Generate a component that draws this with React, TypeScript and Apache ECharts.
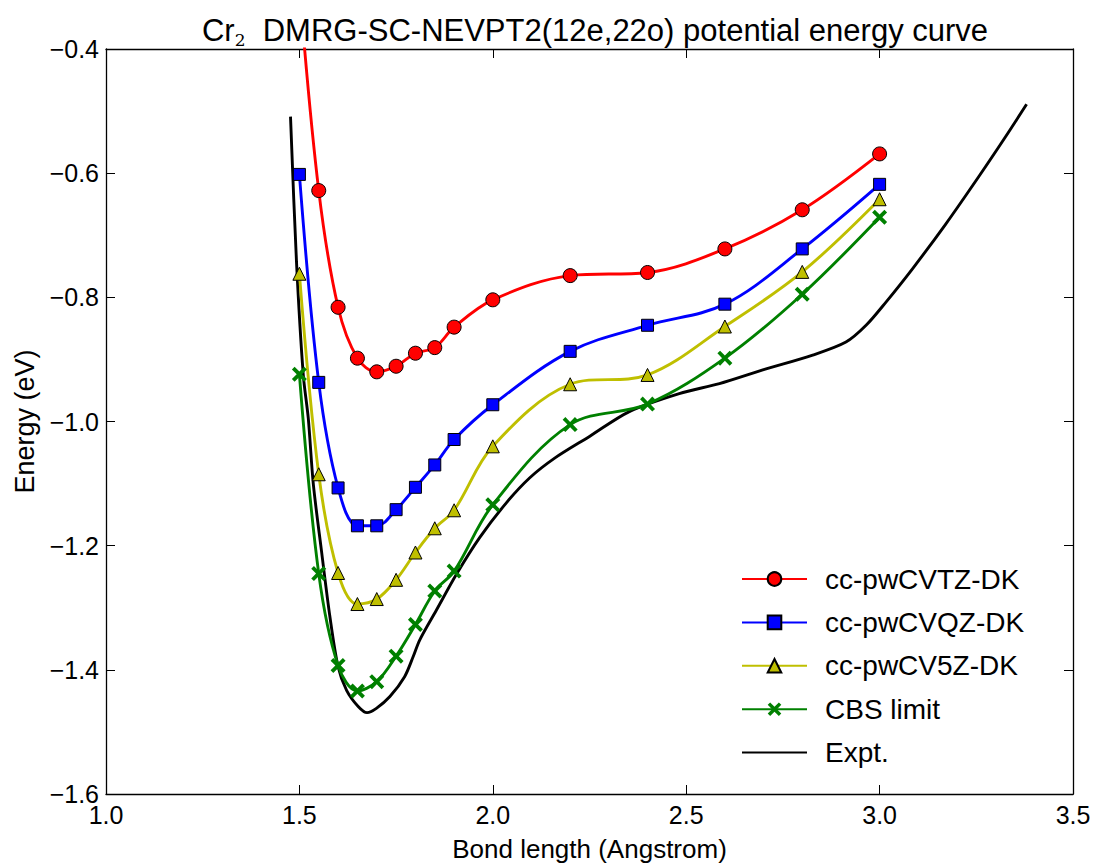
import React, { useEffect, useRef } from "react";
import * as echarts from "echarts";

// Bond lengths (Angstrom) of the computed points
const bondLengths = [1.5, 1.55, 1.6, 1.65, 1.7, 1.75, 1.8, 1.85, 1.9, 2.0, 2.2, 2.4, 2.6, 2.8, 3.0];

// Energies (eV)
const tzEnergy = [-0.30, -0.628, -0.816, -0.898, -0.920, -0.911, -0.890, -0.881, -0.848, -0.804, -0.765, -0.760, -0.722, -0.659, -0.569];
const qzEnergy = [-0.602, -0.937, -1.107, -1.168, -1.168, -1.142, -1.106, -1.070, -1.029, -0.973, -0.887, -0.845, -0.811, -0.722, -0.618];
const v5zEnergy = [-0.762, -1.085, -1.244, -1.294, -1.286, -1.255, -1.211, -1.172, -1.143, -1.040, -0.940, -0.925, -0.847, -0.759, -0.642];
const cbsEnergy = [-0.924, -1.245, -1.393, -1.434, -1.419, -1.378, -1.327, -1.273, -1.241, -1.134, -1.005, -0.972, -0.898, -0.795, -0.671];

// Experimental curve
const exptX = [1.477, 1.4925, 1.51, 1.523, 1.536, 1.557, 1.579, 1.6, 1.622, 1.652, 1.675, 1.699, 1.734, 1.772, 1.794, 1.811, 1.854, 1.906, 1.966, 2.035, 2.095, 2.16, 2.25, 2.353, 2.482, 2.586, 2.698, 2.827, 2.913, 2.965, 3.016, 3.085, 3.171, 3.257, 3.326, 3.38];
const exptY = [-0.509, -0.743, -0.925, -0.995, -1.101, -1.208, -1.315, -1.395, -1.433, -1.459, -1.469, -1.462, -1.443, -1.411, -1.379, -1.352, -1.304, -1.246, -1.187, -1.131, -1.091, -1.059, -1.024, -0.984, -0.955, -0.939, -0.917, -0.893, -0.872, -0.845, -0.808, -0.754, -0.682, -0.605, -0.541, -0.489];

const seriesNames = ["cc-pwCVTZ-DK", "cc-pwCVQZ-DK", "cc-pwCV5Z-DK", "CBS limit", "Expt."];
const xTicks = { min: 1.0, max: 3.5, interval: 0.5 };
const yTicks = { min: -1.6, max: -0.4, interval: 0.2 };

const FONT = "'Liberation Sans', Arial, Helvetica, sans-serif";
const X_MARK = "path://M1.8,0 L5,3.2 L8.2,0 L10,1.8 L6.8,5 L10,8.2 L8.2,10 L5,6.8 L1.8,10 L0,8.2 L3.2,5 L0,1.8 Z";

const pairs = (xs: number[], ys: number[]) => xs.map((x, i) => [x, ys[i]]);
const fmt = (v: number) => v.toFixed(1).replace("-", "\u2212");

export default function App() {
  const ref = useRef<HTMLDivElement>(null);
  useEffect(() => {
    if (!ref.current) return;
    const chart = echarts.init(ref.current, null, { renderer: "svg" });
    const tick = { show: true, inside: true, length: 9, lineStyle: { color: "#000", width: 1 } };
    const axLine = { show: true, lineStyle: { color: "#000", width: 1.3 } };
    const lineBase = (name: string, color: string, ys: number[], symbol: string, size: number, border: boolean) => ({
      name,
      type: "line",
      data: pairs(bondLengths, ys),
      smooth: 0.35,
      clip: true,
      symbol,
      symbolSize: size,
      showSymbol: true,
      lineStyle: { color, width: 2.9 },
      itemStyle: border ? { color, borderColor: "#000", borderWidth: 1 } : { color, borderWidth: 0 },
      z: 3,
    });
    chart.setOption({
      animation: false,
      backgroundColor: "#fff",
      textStyle: { fontFamily: FONT },
      title: {
        text: "{a|Cr}{b|2}{a|  DMRG-SC-NEVPT2(12e,22o) potential energy curve}",
        left: 590,
        textAlign: "center",
        top: 7,
        textStyle: {
          fontWeight: "normal",
          rich: {
            a: { fontFamily: FONT, fontSize: 31, fontWeight: "normal", color: "#000", lineHeight: 36, verticalAlign: "middle" },
            b: { fontFamily: "'DejaVu Serif', serif", fontSize: 17, fontWeight: "normal", color: "#000", lineHeight: 12, verticalAlign: "bottom" },
          },
        },
      },
      legend: {
        orient: "vertical",
        left: 736,
        top: 557,
        itemWidth: 65,
        itemHeight: 17,
        itemGap: 9.4,
        data: seriesNames.map((n, i) => (i === 4 ? { name: n, itemStyle: { opacity: 0 } } : { name: n })),
        textStyle: { fontFamily: FONT, fontSize: 28, color: "#000", lineHeight: 34, padding: [0, 0, 0, 13] },
      },
      grid: { left: 106, top: 49, right: 22, bottom: 69, containLabel: false },
      xAxis: [
        {
          type: "value",
          ...xTicks,
          name: "Bond length (Angstrom)",
          nameLocation: "middle",
          nameGap: 42,
          nameTextStyle: { fontFamily: FONT, fontSize: 26, color: "#000" },
          axisLine: axLine,
          axisTick: tick,
          splitLine: { show: false },
          axisLabel: { fontFamily: FONT, fontSize: 25, color: "#000", margin: 8, formatter: fmt },
        },
        {
          type: "value",
          position: "top",
          ...xTicks,
          axisLine: axLine,
          axisTick: tick,
          splitLine: { show: false },
          axisLabel: { show: false },
        },
      ],
      yAxis: [
        {
          type: "value",
          ...yTicks,
          name: "Energy (eV)",
          nameLocation: "middle",
          nameGap: 64,
          nameTextStyle: { fontFamily: FONT, fontSize: 27, color: "#000" },
          axisLine: axLine,
          axisTick: tick,
          splitLine: { show: false },
          axisLabel: { fontFamily: FONT, fontSize: 25, color: "#000", margin: 7, formatter: fmt },
        },
        {
          type: "value",
          position: "right",
          ...yTicks,
          axisLine: axLine,
          axisTick: tick,
          splitLine: { show: false },
          axisLabel: { show: false },
        },
      ],
      series: [
        lineBase(seriesNames[0], "#ff0000", tzEnergy, "circle", 14, true),
        lineBase(seriesNames[1], "#0000ff", qzEnergy, "rect", 12, true),
        lineBase(seriesNames[2], "#bfbf00", v5zEnergy, "triangle", 13, true),
        lineBase(seriesNames[3], "#008000", cbsEnergy, X_MARK, 15, false),
        {
          name: seriesNames[4],
          type: "line",
          data: pairs(exptX, exptY),
          smooth: 0.3,
          clip: true,
          symbol: "none",
          showSymbol: false,
          lineStyle: { color: "#000", width: 2.9 },
          itemStyle: { color: "#000" },
          z: 2,
        },
      ],
    });
    return () => chart.dispose();
  }, []);
  return <div ref={ref} style={{ position: "fixed", left: 0, top: 0, width: 1095, height: 867 }} />;
}
